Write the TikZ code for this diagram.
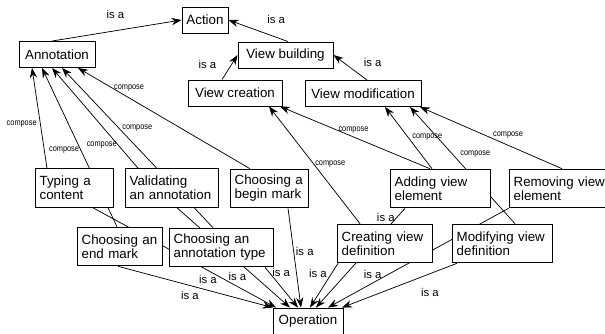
\documentclass[tikz,border=0pt]{standalone}
\usepackage{fontspec}
\setmainfont{Liberation Sans}
\newfontfamily\narrowfont[FakeStretch=0.85]{Liberation Sans}
\usetikzlibrary{arrows.meta, calc, backgrounds}
\tikzset{
	concept/.style = {draw, fill=white, line width=0.7pt, inner sep=0pt,
	                  minimum height=19.5pt, font=\fontsize{10}{10.5}\selectfont},
	task/.style = {concept, align=left, inner xsep=3.5pt, minimum height=29pt},
	isa/.style = {-{Stealth[length=7.5pt, width=5.5pt, inset=2.5pt]}, line width=0.55pt},
	isalabel/.style = {font=\fontsize{8.5}{9}\selectfont, inner sep=1.5pt},
	composelabel/.style = {font=\narrowfont\fontsize{6.5}{7}\selectfont, inner sep=1pt}
}

\begin{document}
\begin{tikzpicture}[x=0.75pt, y=-0.75pt]
	\useasboundingbox (0, 0) rectangle (605, 333);

	% actions
	\node (Action) [concept, minimum width=34.5pt] at (205, 20) {Action};
	\node (Annotation) [concept, minimum width=57pt] at (57, 54.5) {Annotation};
	\node (ViewBuilding) [concept, minimum width=71.25pt] at (285.5, 55) {View building};
	\node (ViewCreation) [concept, minimum width=70.5pt] at (235, 93) {View creation};
	\node (ViewMod) [concept, minimum width=87pt] at (363, 93.5) {View modification};

	% operations
	\node (Typing) [task, text width=51.5pt] at (74, 188) {Typing~a\\content};
	\node (Validating) [task, text width=62.75pt] at (171.5, 188) {Validating\\an~annotation};
	\node (BeginMark) [task, text width=51.5pt] at (269, 188.5) {Choosing~a\\begin~mark};
	\node (Adding) [task, text width=68pt] at (440, 188.5) {Adding~view\\element};
	\node (Removing) [task, text width=70.25pt] at (560.5, 188.5) {Removing~view\\element};
	\node (EndMark) [task, text width=56.75pt] at (119.5, 246.5) {Choosing~an\\end~mark};
	\node (AnnoType) [task, text width=71pt] at (221, 247.5) {Choosing~an\\annotation~type};
	\node (Creating) [task, text width=64.25pt] at (384.5, 243.5) {Creating~view\\definition};
	\node (Modifying) [task, text width=68pt] at (502, 243.5) {Modifying~view\\definition};

	\node (Operation) [concept, minimum width=52.5pt] at (308, 321) {Operation};

	\begin{pgfonlayer}{background}
		% is a, upper part
		\draw [isa] ($(Annotation.north)+(-5, 0)$) -- node [isalabel, pos=0.49, above=7.5pt] {is a} (Action.west);
		\draw [isa] ($(ViewBuilding.north)+(2.5, 0)$) -- node [isalabel, pos=0.2, above=8.5pt] {is a} (Action.east);
		\draw [isa] ($(ViewCreation.north)+(-13, 0)$) -- node [isalabel, pos=0.6, left=9.5pt] {is a} (ViewBuilding.west);
		\draw [isa] ($(ViewMod.north)+(4, 0)$) -- node [isalabel, pos=0.72, right=14pt] {is a} (ViewBuilding.east);

		% compose, annotation
		\draw [isa] ($(Typing.north)+(-27, 0)$) -- node [composelabel, pos=0.436, left=1.6pt] {compose} ($(Annotation.south)+(-25, 0)$);
		\draw [isa] ($(EndMark.north)+(-2.5, 0)$) -- node [composelabel, pos=0.484, anchor=east] {compose} ($(Annotation.south)+(-15, 0)$);
		\draw [isa] ($(Validating.north)+(-33.5, 0)$) -- node [composelabel, pos=0.228, anchor=east] {compose} ($(Annotation.south)+(-5, 0)$);
		\draw [isa] ($(AnnoType.north)+(-8, 0)$) -- node [composelabel, pos=0.625, right=1.5pt] {compose} ($(Annotation.south)+(5, 0)$);
		\draw [isa] ($(BeginMark.north)+(-19, 0)$) -- node [composelabel, pos=0.8, anchor=west] {compose} ($(Annotation.south)+(21, 0)$);

		% compose, view building
		\draw [isa] ($(Adding.north)+(-10, 0)$) -- node [composelabel, pos=0.51, above=1.5pt] {compose} ($(ViewCreation.south)+(45, 0)$);
		\draw [isa] ($(Creating.north)+(-24.5, 0)$) -- node [composelabel, pos=0.51, anchor=west] {compose} ($(ViewCreation.south)+(34, 0)$);
		\draw [isa] ($(Adding.north)+(-8, 0)$) -- node [composelabel, pos=0.517, right=2.2pt] {compose} ($(ViewMod.south)+(22, 0)$);
		\draw [isa] ($(Modifying.north)+(13, 0)$) -- node [composelabel, pos=0.6, right=5pt] {compose} ($(ViewMod.south)+(47, 0)$);
		\draw [isa] ($(Removing.north)+(1.5, 0)$) -- node [composelabel, pos=0.38, above=3.6pt] {compose} ($(ViewMod.south)+(57, 0)$);

		% is a, operation
		\draw [isa] ($(EndMark.south)+(-1.5, 0)$) -- node [isalabel, pos=0.465, below=2.6pt] {is a} (Operation.north west);
		\draw [isa] ($(Typing.south)+(19, 0)$) -- node [isalabel, pos=0.628, below=2pt] {is a} ($(Operation.north)+(-32, 0)$);
		\draw [isa] ($(Validating.south)+(5.5, 0)$) -- node [isalabel, pos=0.693, left=5pt] {is a} ($(Operation.north)+(-18, 0)$);
		\draw [isa] ($(AnnoType.south)+(44, 0)$) -- node [isalabel, pos=0.12, right=0.75pt] {is a} ($(Operation.north)+(-10, 0)$);
		\draw [isa] ($(BeginMark.south)+(19, 0)$) -- node [isalabel, pos=0.43, anchor=west] {is a} ($(Operation.north)+(-7, 0)$);
		\draw [isa] ($(Creating.south)+(-46.5, 0)$) -- node [isalabel, pos=0.222, left=2pt] {is a} ($(Operation.north)+(2, 0)$);
		\draw [isa] ($(Adding.south)+(-35, 0)$) -- node [isalabel, pos=0.09, anchor=east] {is a} ($(Operation.north)+(8, 0)$);
		\draw [isa] (Removing.south west) -- node [isalabel, pos=0.67, left=2.8pt] {is a} ($(Operation.north)+(20, 0)$);
		\draw [isa] ($(Modifying.south)+(-45, 0)$) -- node [isalabel, pos=0.235, below=9.3pt] {is a} ($(Operation.north)+(34, 0)$);
	\end{pgfonlayer}
\end{tikzpicture}
\end{document}
